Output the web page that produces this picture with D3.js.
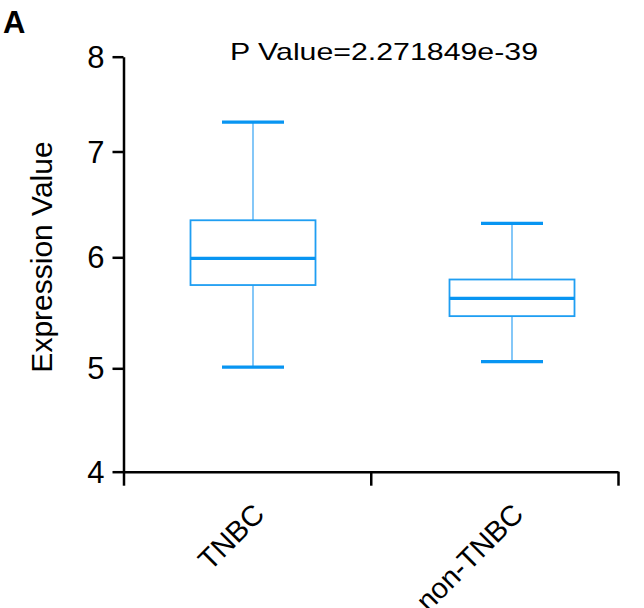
<!DOCTYPE html>
<html>
<head>
<meta charset="utf-8">
<script src="https://cdn.jsdelivr.net/npm/d3@7"></script>
<style>
  body { margin: 0; background: #fff; }
  text { font-family: "Liberation Sans", Arial, sans-serif; }
</style>
</head>
<body>
<svg width="644" height="608"></svg>
<script>
// data
let groups = ['TNBC', 'non-TNBC'];
let whiskerLow = [5.01, 5.06];
let q1 = [5.75, 5.47];
let median = [5.99, 5.63];
let q3 = [6.35, 5.80];
let whiskerHigh = [7.31, 6.32];
let yTicks = [4, 5, 6, 7, 8];
let pValue = 'P Value=2.271849e-39';

let boxes = groups.map((g, i) => ({
  group: g, lo: whiskerLow[i], q1: q1[i], med: median[i], q3: q3[i], hi: whiskerHigh[i]
}));

let svg = d3.select('svg');

// the original axis is not evenly spaced, so map each tick to where it sits
let y = d3.scaleLinear()
  .domain(yTicks)
  .range([471.7, 368.3, 257.3, 151.5, 56.7]);

let xCenter = d3.scalePoint().domain(groups).range([253, 512]);
let xEdge = d3.scaleLinear().domain([0, groups.length]).range([123.5, 618]);

let boxHalf = 62.5;
let capHalf = 31;

// y axis
let yAxis = svg.append('g')
  .attr('transform', 'translate(123.5,0)')
  .call(d3.axisLeft(y).tickValues(yTicks).tickFormat(d3.format('d'))
    .tickSize(11).tickSizeOuter(0).tickPadding(8));
yAxis.select('.domain').attr('stroke', '#000').attr('stroke-width', 2.5);
yAxis.selectAll('.tick line').attr('stroke', '#000').attr('stroke-width', 2.5);
yAxis.selectAll('.tick text')
  .attr('fill', '#000')
  .style('font-size', '31px')
  .attr('dy', '0.34em');

// x axis, ticks on the group boundaries
let xAxis = svg.append('g')
  .attr('transform', 'translate(0,' + y(4) + ')')
  .call(d3.axisBottom(xEdge).tickValues([0, 1, 2]).tickSize(14).tickSizeOuter(0).tickFormat(''));
xAxis.select('.domain').attr('stroke', '#000').attr('stroke-width', 2.5);
xAxis.selectAll('.tick line').attr('stroke', '#000').attr('stroke-width', 2.5);

// rotated group labels
svg.selectAll('.xlabel')
  .data(groups)
  .enter()
  .append('text')
    .classed('xlabel', true)
    .attr('text-anchor', 'end')
    .attr('transform', d => 'translate(' + (xCenter(d) + 13) + ',516) rotate(-45)')
    .style('font-size', '29px')
    .text(d => d);

// boxes
let g = svg.selectAll('.box')
  .data(boxes)
  .enter()
  .append('g')
    .classed('box', true);

g.append('line')
  .attr('x1', d => xCenter(d.group))
  .attr('x2', d => xCenter(d.group))
  .attr('y1', d => y(d.hi))
  .attr('y2', d => y(d.q3))
  .attr('stroke', '#66baf7')
  .attr('stroke-width', 1.6);

g.append('line')
  .attr('x1', d => xCenter(d.group))
  .attr('x2', d => xCenter(d.group))
  .attr('y1', d => y(d.q1))
  .attr('y2', d => y(d.lo))
  .attr('stroke', '#66baf7')
  .attr('stroke-width', 1.6);

g.append('rect')
  .attr('x', d => xCenter(d.group) - boxHalf)
  .attr('width', boxHalf * 2)
  .attr('y', d => y(d.q3))
  .attr('height', d => y(d.q1) - y(d.q3))
  .attr('fill', 'none')
  .attr('stroke', '#1f9ef2')
  .attr('stroke-width', 1.8);

g.append('line')
  .attr('x1', d => xCenter(d.group) - boxHalf)
  .attr('x2', d => xCenter(d.group) + boxHalf)
  .attr('y1', d => y(d.med))
  .attr('y2', d => y(d.med))
  .attr('stroke', '#0895f2')
  .attr('stroke-width', 3.2);

['hi', 'lo'].forEach(k => {
  g.append('line')
    .attr('x1', d => xCenter(d.group) - capHalf)
    .attr('x2', d => xCenter(d.group) + capHalf)
    .attr('y1', d => y(d[k]))
    .attr('y2', d => y(d[k]))
    .attr('stroke', '#0895f2')
    .attr('stroke-width', 3.2);
});

// titles
svg.append('text')
  .attr('x', 230)
  .attr('y', 60)
  .attr('textLength', 308)
  .attr('lengthAdjust', 'spacingAndGlyphs')
  .style('font-size', '24px')
  .text(pValue);

svg.append('text')
  .attr('transform', 'translate(52,257) rotate(-90)')
  .attr('text-anchor', 'middle')
  .style('font-size', '30px')
  .text('Expression Value');

svg.append('text')
  .attr('x', 3)
  .attr('y', 33)
  .style('font-size', '31px')
  .style('font-weight', 'bold')
  .text('A');
</script>
</body>
</html>
